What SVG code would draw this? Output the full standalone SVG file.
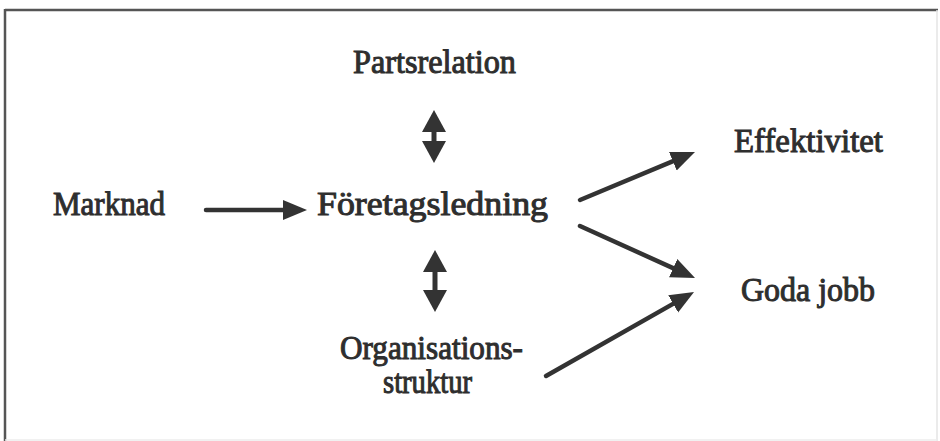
<svg xmlns="http://www.w3.org/2000/svg" width="940" height="441" viewBox="0 0 940 441">
<style>
.t{font-family:'Liberation Serif','Times New Roman',Times,serif;font-size:33px;fill:#2e2e2e;stroke:#2e2e2e;stroke-width:1}
.c{stroke:#333;stroke-width:4.5;fill:none;stroke-linecap:round}
.v{stroke:#333;stroke-width:5;fill:none}
</style>
<defs>
<marker id="ah" viewBox="0 0 24 22" refX="12" refY="11" markerWidth="24" markerHeight="22" markerUnits="userSpaceOnUse" orient="auto-start-reverse">
<path d="M0,1 L24,11 L0,21 z" fill="#333"/>
</marker>
<marker id="vh" viewBox="0 0 22 24" refX="11" refY="12" markerWidth="22" markerHeight="24" markerUnits="userSpaceOnUse" orient="auto-start-reverse">
<path d="M0,0 L22,12 L0,24 z" fill="#333"/>
</marker>
</defs>
<rect width="940" height="441" fill="#fff"/>
<g id="frame">
<line x1="5" y1="10" x2="938" y2="10" stroke="#555" stroke-width="2.5"/>
<line x1="5" y1="9" x2="5" y2="441" stroke="#555" stroke-width="2.5"/>
<line x1="937" y1="10" x2="937" y2="441" stroke="#e4e4e4" stroke-width="1.5"/>
<line x1="5" y1="440" x2="937" y2="440" stroke="#ececec" stroke-width="1.5"/>
</g>
<g id="partsrelation"><text class="t" x="353" y="73" textLength="163" lengthAdjust="spacingAndGlyphs">Partsrelation</text></g>
<g id="marknad"><text class="t" x="53" y="215" textLength="112" lengthAdjust="spacingAndGlyphs">Marknad</text></g>
<g id="foretagsledning"><text class="t" x="317" y="215" textLength="231" lengthAdjust="spacingAndGlyphs">Företagsledning</text></g>
<g id="effektivitet"><text class="t" x="734" y="152" textLength="149" lengthAdjust="spacingAndGlyphs">Effektivitet</text></g>
<g id="godajobb"><text class="t" x="741" y="301" textLength="134" lengthAdjust="spacingAndGlyphs">Goda jobb</text></g>
<g id="organisationsstruktur">
<text class="t" x="340" y="359" textLength="183" lengthAdjust="spacingAndGlyphs">Organisations-</text>
<text class="t" x="383" y="393" textLength="89" lengthAdjust="spacingAndGlyphs">struktur</text>
</g>
<g id="connectors">
<line class="c" x1="206" y1="210" x2="295" y2="210" marker-end="url(#ah)"/>
<line class="v" x1="434" y1="121" x2="434" y2="152" marker-start="url(#vh)" marker-end="url(#vh)"/>
<line class="v" x1="435" y1="261" x2="435" y2="301" marker-start="url(#vh)" marker-end="url(#vh)"/>
<line class="c" x1="580" y1="200" x2="683.9" y2="156.6" marker-end="url(#ah)"/>
<line class="c" x1="580" y1="226" x2="684.1" y2="273.1" marker-end="url(#ah)"/>
<line class="c" x1="546" y1="376" x2="683.6" y2="297.9" marker-end="url(#ah)"/>
</g>
</svg>
